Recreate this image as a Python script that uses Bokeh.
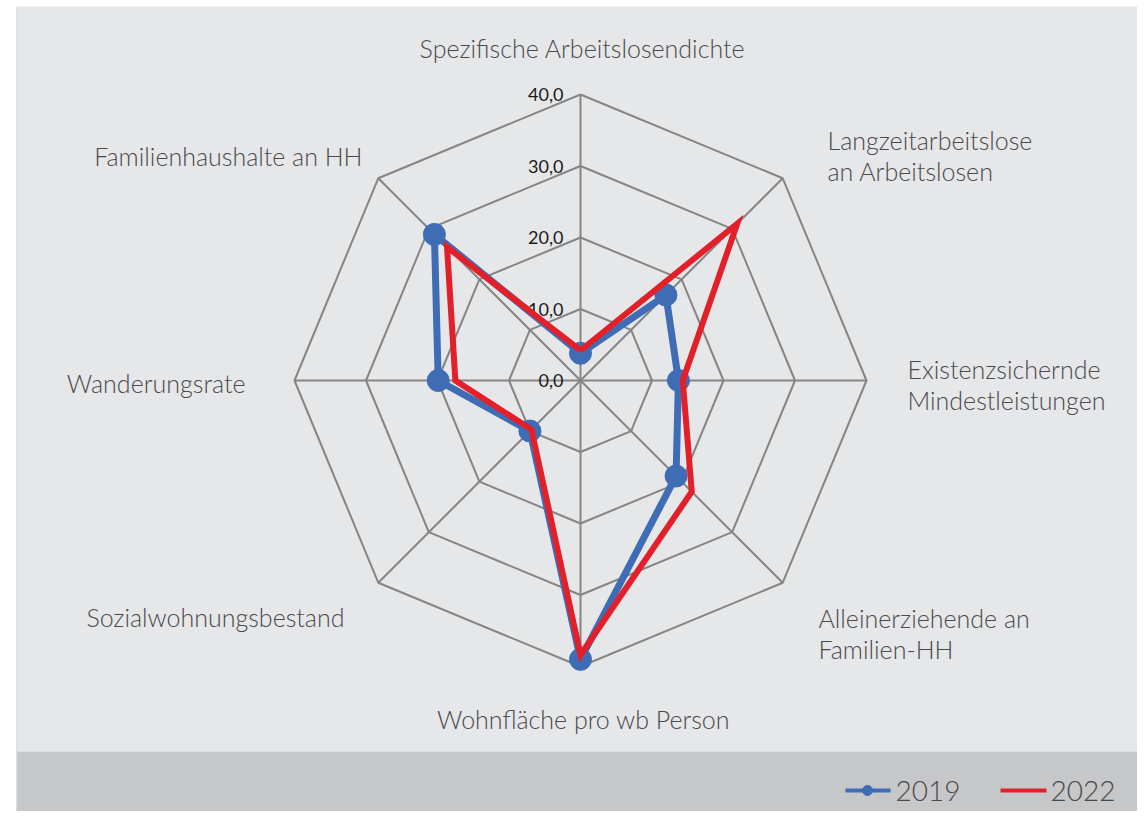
import math
from bokeh.plotting import figure
from bokeh.models import Range1d
from bokeh.core.properties import value
from bokeh.embed import file_html
from bokeh.resources import INLINE

# ---- data ----
categories = [
    "Spezifische Arbeitslosendichte",
    "Langzeitarbeitslose\nan Arbeitslosen",
    "Existenzsichernde\nMindestleistungen",
    "Alleinerziehende an\nFamilien-HH",
    "Wohnfläche pro wb Person",
    "Sozialwohnungsbestand",
    "Wanderungsrate",
    "Familienhaushalte an HH",
]
values_2019 = [3.8, 16.9, 13.7, 18.9, 39.0, 10.0, 19.9, 28.9]
values_2022 = [4.2, 31.0, 14.3, 22.0, 38.4, 9.7, 17.5, 26.4]
series_names = ["2019", "2022"]
ticks = [0, 10, 20, 30, 40]
tick_labels = ["0,0", "10,0", "20,0", "30,0", "40,0"]

# ---- layout (screenshot pixel frame, y down) ----
W, H = 1137, 811
CX, CY = 580, 380
S = 286 / 40.0
N = len(categories)
FONT = "Lato"
LIGHT = "Lato Light, Lato"
BLUE = "#3E6DB5"
RED = "#E3202A"
GRID = "#858585"

def pt(v, i):
    a = 2 * math.pi * i / N
    return CX + v * S * math.sin(a), CY - v * S * math.cos(a)

p = figure(width=W, height=H, output_backend="svg", toolbar_location=None,
           x_range=Range1d(0, W), y_range=Range1d(H, 0),
           min_border=0, outline_line_color=None)
p.axis.visible = False
p.grid.visible = False
p.background_fill_color = "white"
p.border_fill_color = "white"

# panels
p.quad(left=[16], right=[1145], top=[6], bottom=[751], fill_color="#E6E7E9", line_color=None)
p.quad(left=[16], right=[1145], top=[751], bottom=[830], fill_color="#C6C7C9", line_color=None)
p.line([16.5, 16.5], [6, 830], line_color="#d4d5d7", line_width=1)

# grid rings
for t in ticks[1:]:
    xs, ys = [], []
    for i in range(N + 1):
        x, y = pt(t, i % N)
        xs.append(x); ys.append(y)
    p.line(xs, ys, line_color=GRID, line_width=2)
# spokes
for i in range(N):
    x, y = pt(ticks[-1], i)
    p.line([CX, x], [CY, y], line_color=GRID, line_width=2)

# tick labels
p.text(x=[CX - 17] * len(ticks), y=[CY - t * S for t in ticks], text=tick_labels,
       text_font=value(FONT), text_font_size="18px", text_color="#1a1a1a",
       text_align="right", text_baseline="middle")

# series
def closed(vals):
    xs, ys = [], []
    for i in range(N + 1):
        x, y = pt(vals[i % N], i % N)
        xs.append(x); ys.append(y)
    return xs, ys

bx, by = closed(values_2019)
p.line(bx, by, line_color=BLUE, line_width=7, line_join="round")
p.scatter(bx[:-1], by[:-1], size=22, fill_color=BLUE, line_color=BLUE)
rx, ry = closed(values_2022)
p.line(rx, ry, line_color=RED, line_width=6, line_join="miter")

# category labels
lab = dict(text_font=value(LIGHT), text_font_size="25px", text_color="#4a4a4a",
           text_baseline="middle", text_line_height=1.05)
p.text(x=[582], y=[47], text=[categories[0]], text_align="center", **lab)
p.text(x=[827], y=[155], text=[categories[1]], text_align="left", **lab)
p.text(x=[907], y=[384], text=[categories[2]], text_align="left", **lab)
p.text(x=[818], y=[633], text=[categories[3]], text_align="left", **lab)
p.text(x=[583], y=[718], text=[categories[4]], text_align="center", **lab)
p.text(x=[344], y=[616], text=[categories[5]], text_align="right", **lab)
p.text(x=[245], y=[382], text=[categories[6]], text_align="right", **lab)
p.text(x=[362], y=[155], text=[categories[7]], text_align="right", **lab)

# legend
p.line([845, 890], [790, 790], line_color=BLUE, line_width=4)
p.scatter([867], [790], size=10, fill_color=BLUE, line_color=BLUE)
p.text(x=[895], y=[790], text=[series_names[0]], text_font=value(LIGHT), text_font_size="28px",
       text_color="#4a4a4a", text_baseline="middle", text_align="left")
p.line([1000, 1046], [790, 790], line_color=RED, line_width=4)
p.text(x=[1050], y=[790], text=[series_names[1]], text_font=value(LIGHT), text_font_size="28px",
       text_color="#4a4a4a", text_baseline="middle", text_align="left")

open("out.html", "w").write(file_html(p, INLINE))
